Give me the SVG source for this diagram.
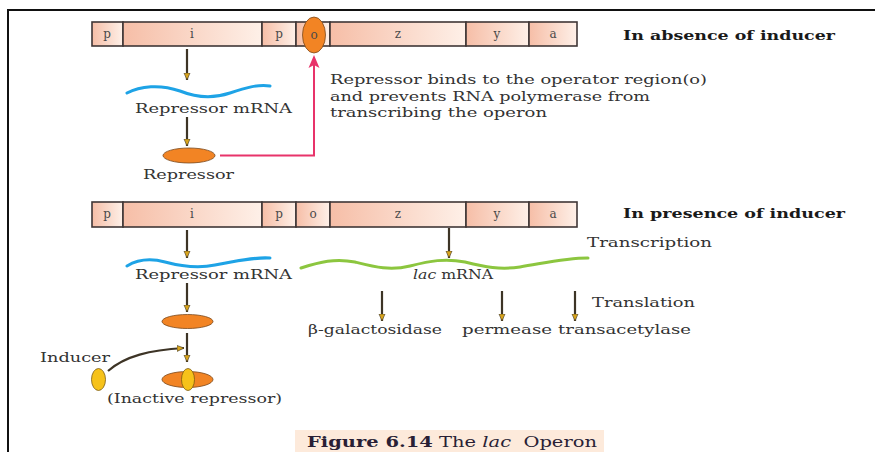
<svg xmlns="http://www.w3.org/2000/svg" width="875" height="452" viewBox="0 0 875 452">
<defs>
<linearGradient id="seg" x1="0" y1="0" x2="1" y2="0">
<stop offset="0" stop-color="#f6bea7"/>
<stop offset="1" stop-color="#fef0e8"/>
</linearGradient>
<marker id="ahc" markerUnits="userSpaceOnUse" markerWidth="8" markerHeight="8" viewBox="0 0 8 8" refX="7" refY="4" orient="auto">
<path d="M0,1 L7,4 L0,7 Z" fill="#d9a51c" stroke="#3d3426" stroke-width="0.6"/>
</marker>
</defs>
<style>
.seg{fill:url(#seg);stroke:#3f3636;stroke-width:1.6}
.gl{font-family:"DejaVu Serif","Liberation Serif",serif;font-size:12px;fill:#4a4a4a;text-anchor:middle}
.t{font-family:"DejaVu Serif","Liberation Serif",serif;font-size:13px;fill:#333}
.h{font-family:"DejaVu Serif","Liberation Serif",serif;font-size:13px;font-weight:bold;fill:#1a1a1a}
.arr{stroke:#3d3426;stroke-width:2.2;fill:none;marker-end:url(#ahc)}
.orange{fill:#f28424;stroke:#7a4a20;stroke-width:0.8}
.yellow{fill:#f6c21a;stroke:#7a5a10;stroke-width:0.8}
.blue{fill:none;stroke:#1ea3e6;stroke-width:3;stroke-linecap:round}
.green{fill:none;stroke:#8cc63f;stroke-width:3;stroke-linecap:round}
</style>
<rect x="0" y="0" width="875" height="452" fill="#ffffff"/>
<path d="M8,452 L8,10 L875,10" fill="none" stroke="#111" stroke-width="2"/>

<g id="operon-top">
<rect class="seg" x="92" y="22" width="31" height="24"/>
<rect class="seg" x="123" y="22" width="139" height="24"/>
<rect class="seg" x="262" y="22" width="34" height="24"/>
<rect class="seg" x="296" y="22" width="34" height="24"/>
<rect class="seg" x="330" y="22" width="136" height="24"/>
<rect class="seg" x="466" y="22" width="63" height="24"/>
<rect class="seg" x="529" y="22" width="48" height="24"/>
<text class="gl" x="107" y="38">p</text>
<text class="gl" x="192" y="38">i</text>
<text class="gl" x="279" y="38">p</text>
<text class="gl" x="398" y="38">z</text>
<text class="gl" x="497" y="38">y</text>
<text class="gl" x="553" y="38">a</text>
</g>
<g id="repressor-bound">
<ellipse class="orange" cx="314" cy="35" rx="11.5" ry="18"/>
<text class="gl" x="314" y="39">o</text>
</g>
<g id="label-absence"><text class="h" x="623" y="40" textLength="212" lengthAdjust="spacingAndGlyphs">In absence of inducer</text></g>

<g id="mrna-top">
<path class="blue" d="M127,93 C140,86 160,84 180,91 C195,97 212,99 230,93 C245,88 258,84 270,86"/>
<text class="t" x="135" y="113" textLength="157" lengthAdjust="spacingAndGlyphs">Repressor mRNA</text>
</g>
<g id="repressor-top">
<ellipse class="orange" cx="189" cy="155.5" rx="26" ry="7.5"/>
<text class="t" x="143" y="179" textLength="91" lengthAdjust="spacingAndGlyphs">Repressor</text>
</g>
<g id="note">
<text class="t" x="330" y="84" textLength="377" lengthAdjust="spacingAndGlyphs">Repressor binds to the operator region(o)</text>
<text class="t" x="330" y="101" textLength="320" lengthAdjust="spacingAndGlyphs">and prevents RNA polymerase from</text>
<text class="t" x="330" y="117" textLength="217" lengthAdjust="spacingAndGlyphs">transcribing the operon</text>
</g>

<g id="operon-bottom">
<rect class="seg" x="92" y="202" width="31" height="25"/>
<rect class="seg" x="123" y="202" width="139" height="25"/>
<rect class="seg" x="262" y="202" width="34" height="25"/>
<rect class="seg" x="296" y="202" width="34" height="25"/>
<rect class="seg" x="330" y="202" width="136" height="25"/>
<rect class="seg" x="466" y="202" width="63" height="25"/>
<rect class="seg" x="529" y="202" width="48" height="25"/>
<text class="gl" x="107" y="218">p</text>
<text class="gl" x="192" y="218">i</text>
<text class="gl" x="279" y="218">p</text>
<text class="gl" x="313" y="218">o</text>
<text class="gl" x="398" y="218">z</text>
<text class="gl" x="497" y="218">y</text>
<text class="gl" x="553" y="218">a</text>
</g>
<g id="label-presence"><text class="h" x="623" y="218" textLength="222" lengthAdjust="spacingAndGlyphs">In presence of inducer</text></g>

<g id="mrna-bottom">
<path class="blue" d="M127,266 C137,260 150,258 165,262 C180,266 197,269 215,265 C235,261 255,257 270,258"/>
<text class="t" x="135" y="279" textLength="157" lengthAdjust="spacingAndGlyphs">Repressor mRNA</text>
</g>
<g id="lac-mrna">
<path class="green" d="M301,268 C320,262 335,258 355,262 C375,267 390,271 410,266 C430,261 445,258 465,262 C485,267 500,270 520,267 C545,263 565,258 588,258"/>
<text class="t" x="413" y="279" textLength="80" lengthAdjust="spacingAndGlyphs"><tspan font-style="italic">lac</tspan> mRNA</text>
</g>
<g id="label-transcription"><text class="t" x="587" y="247" textLength="125" lengthAdjust="spacingAndGlyphs">Transcription</text></g>
<g id="label-translation"><text class="t" x="592" y="307" textLength="103" lengthAdjust="spacingAndGlyphs">Translation</text></g>
<g id="products">
<text class="t" x="308" y="334" textLength="134" lengthAdjust="spacingAndGlyphs">β-galactosidase</text>
<text class="t" x="462" y="334" textLength="90" lengthAdjust="spacingAndGlyphs">permease</text>
<text class="t" x="558" y="334" textLength="133" lengthAdjust="spacingAndGlyphs">transacetylase</text>
</g>
<g id="repressor-bottom">
<ellipse class="orange" cx="187.5" cy="321.5" rx="25.5" ry="7"/>
</g>
<g id="inducer">
<ellipse class="yellow" cx="98.5" cy="379.5" rx="7" ry="11"/>
<text class="t" x="40" y="362" textLength="70" lengthAdjust="spacingAndGlyphs">Inducer</text>
</g>
<g id="inactive-repressor">
<ellipse class="orange" cx="187.5" cy="379.5" rx="25.5" ry="8"/>
<ellipse class="yellow" cx="188" cy="379.5" rx="6.5" ry="11"/>
<text class="t" x="107" y="403" textLength="175" lengthAdjust="spacingAndGlyphs">(Inactive repressor)</text>
</g>

<g id="connectors">
<line class="arr" x1="187" y1="49" x2="187" y2="80"/>
<line class="arr" x1="187" y1="117" x2="187" y2="146"/>
<path d="M220,155.5 L314,155.5 L314,60" fill="none" stroke="#e8336a" stroke-width="2"/>
<path d="M314,55 L308.5,68 L314,65 L319.5,68 Z" fill="#e8336a"/>
<line class="arr" x1="187" y1="230" x2="187" y2="258"/>
<line class="arr" x1="449" y1="228" x2="449" y2="258"/>
<line class="arr" x1="187" y1="283" x2="187" y2="312"/>
<line class="arr" x1="187" y1="333" x2="187" y2="362"/>
<line class="arr" x1="382" y1="291" x2="382" y2="321"/>
<line class="arr" x1="502" y1="291" x2="502" y2="321"/>
<line class="arr" x1="575" y1="291" x2="575" y2="321"/>
<path class="arr" d="M108,371 C125,356 150,350 184,348"/>
</g>

<g id="caption">
<rect x="295" y="430" width="309" height="22" fill="#fdeadb"/>
<text x="307" y="447" xml:space="preserve" font-family="DejaVu Serif,Liberation Serif,serif" font-size="14" fill="#2a1f35" textLength="290" lengthAdjust="spacingAndGlyphs"><tspan font-weight="bold">Figure 6.14</tspan> The <tspan font-style="italic">lac</tspan>  Operon</text>
</g>
</svg>
